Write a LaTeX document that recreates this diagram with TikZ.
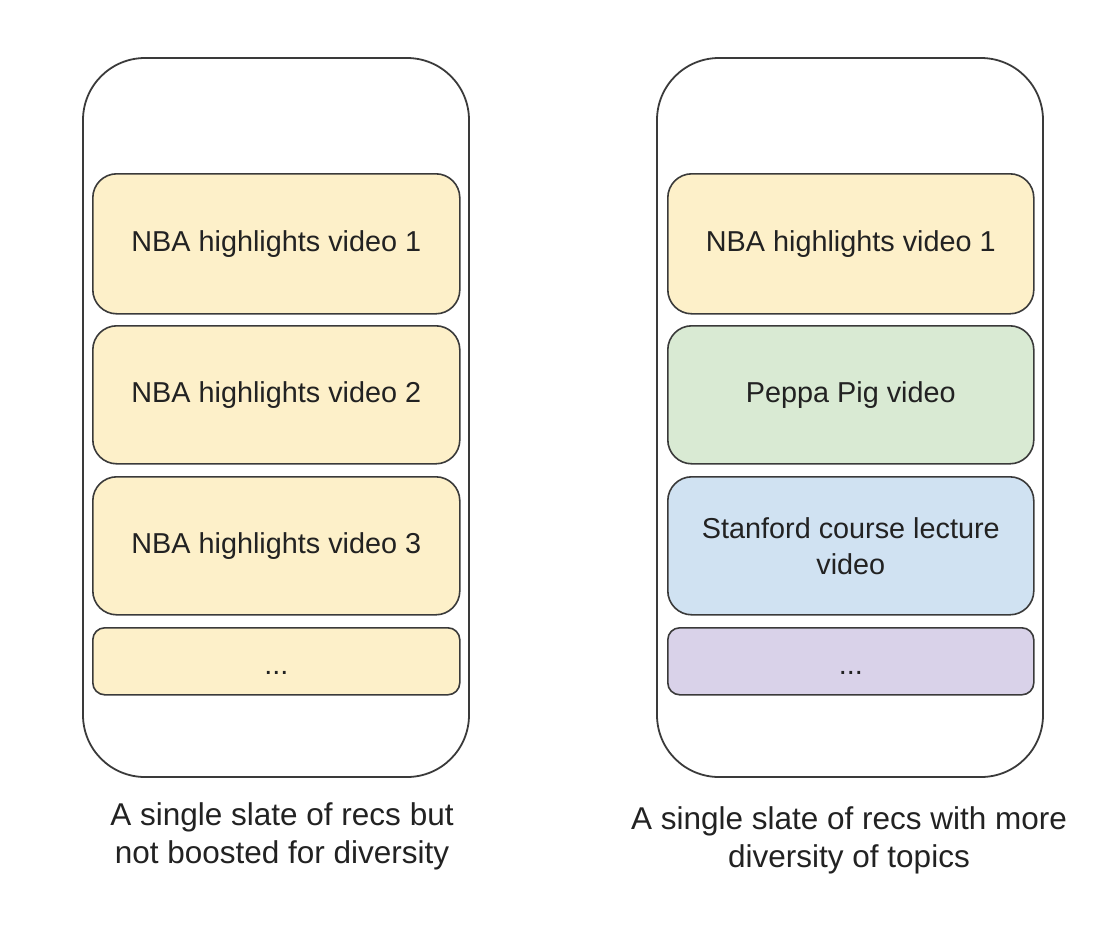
\documentclass[tikz,border=0pt]{standalone}
\usepackage{fontspec}
\setmainfont{Liberation Sans}
\definecolor{cyellow}{HTML}{FDF0C9}
\definecolor{cgreen}{HTML}{D9EAD3}
\definecolor{cblue}{HTML}{D0E2F2}
\definecolor{cpurple}{HTML}{D9D2E9}
\definecolor{cline}{HTML}{3A3A3A}
\definecolor{ctext}{HTML}{222222}
\begin{document}
\begin{tikzpicture}[x=1pt,y=-1pt,
  phone/.style={draw=cline,line width=1.8pt,rounded corners=62pt},
  card/.style={draw=cline,line width=1.6pt,rounded corners=24pt,minimum width=367pt,minimum height=140pt,inner sep=0pt,
    font=\fontsize{28.8}{36}\selectfont,text=ctext,align=center,anchor=north west},
  smallcard/.style={card,rounded corners=12pt,minimum height=67pt},
  caption/.style={font=\fontsize{31.5}{38}\selectfont,text=ctext,align=center}]
\useasboundingbox (0,0) rectangle (1104,930);
% phones
\draw[phone] (83,58) rectangle (469,777);
\draw[phone] (657,58) rectangle (1043,777);
% left cards
\node[card,fill=cyellow] (l1) at (92,173) {\raisebox{-2pt}[11pt][0pt]{NBA highlights video 1}};
\node[card,fill=cyellow,minimum height=138pt] (l2) at (92,325) {\raisebox{-2pt}[11pt][0pt]{NBA highlights video 2}};
\node[card,fill=cyellow,minimum height=138pt] (l3) at (92,476) {\raisebox{-2pt}[11pt][0pt]{NBA highlights video 3}};
\node[smallcard,fill=cyellow] (l4) at (92,627) {\raisebox{-13pt}[0pt][0pt]{...}};
% right cards
\node[card,fill=cyellow,minimum width=366pt] (r1) at (667,173) {\raisebox{-2pt}[11pt][0pt]{NBA highlights video 1}};
\node[card,fill=cgreen,minimum width=366pt,minimum height=138pt] (r2) at (667,325) {\raisebox{-2pt}[11pt][0pt]{Peppa Pig video}};
\node[card,fill=cblue,minimum width=366pt,minimum height=138pt] (r3) at (667,476) {Stanford course lecture\\video};
\node[smallcard,fill=cpurple,minimum width=366pt] (r4) at (667,627) {\raisebox{-13pt}[0pt][0pt]{...}};
% captions
\node[caption] (lc) at (282,836) {A single slate of recs but\\not boosted for diversity};
\node[caption] (rc) at (849,840) {A single slate of recs with more\\diversity of topics};
\end{tikzpicture}
\end{document}
